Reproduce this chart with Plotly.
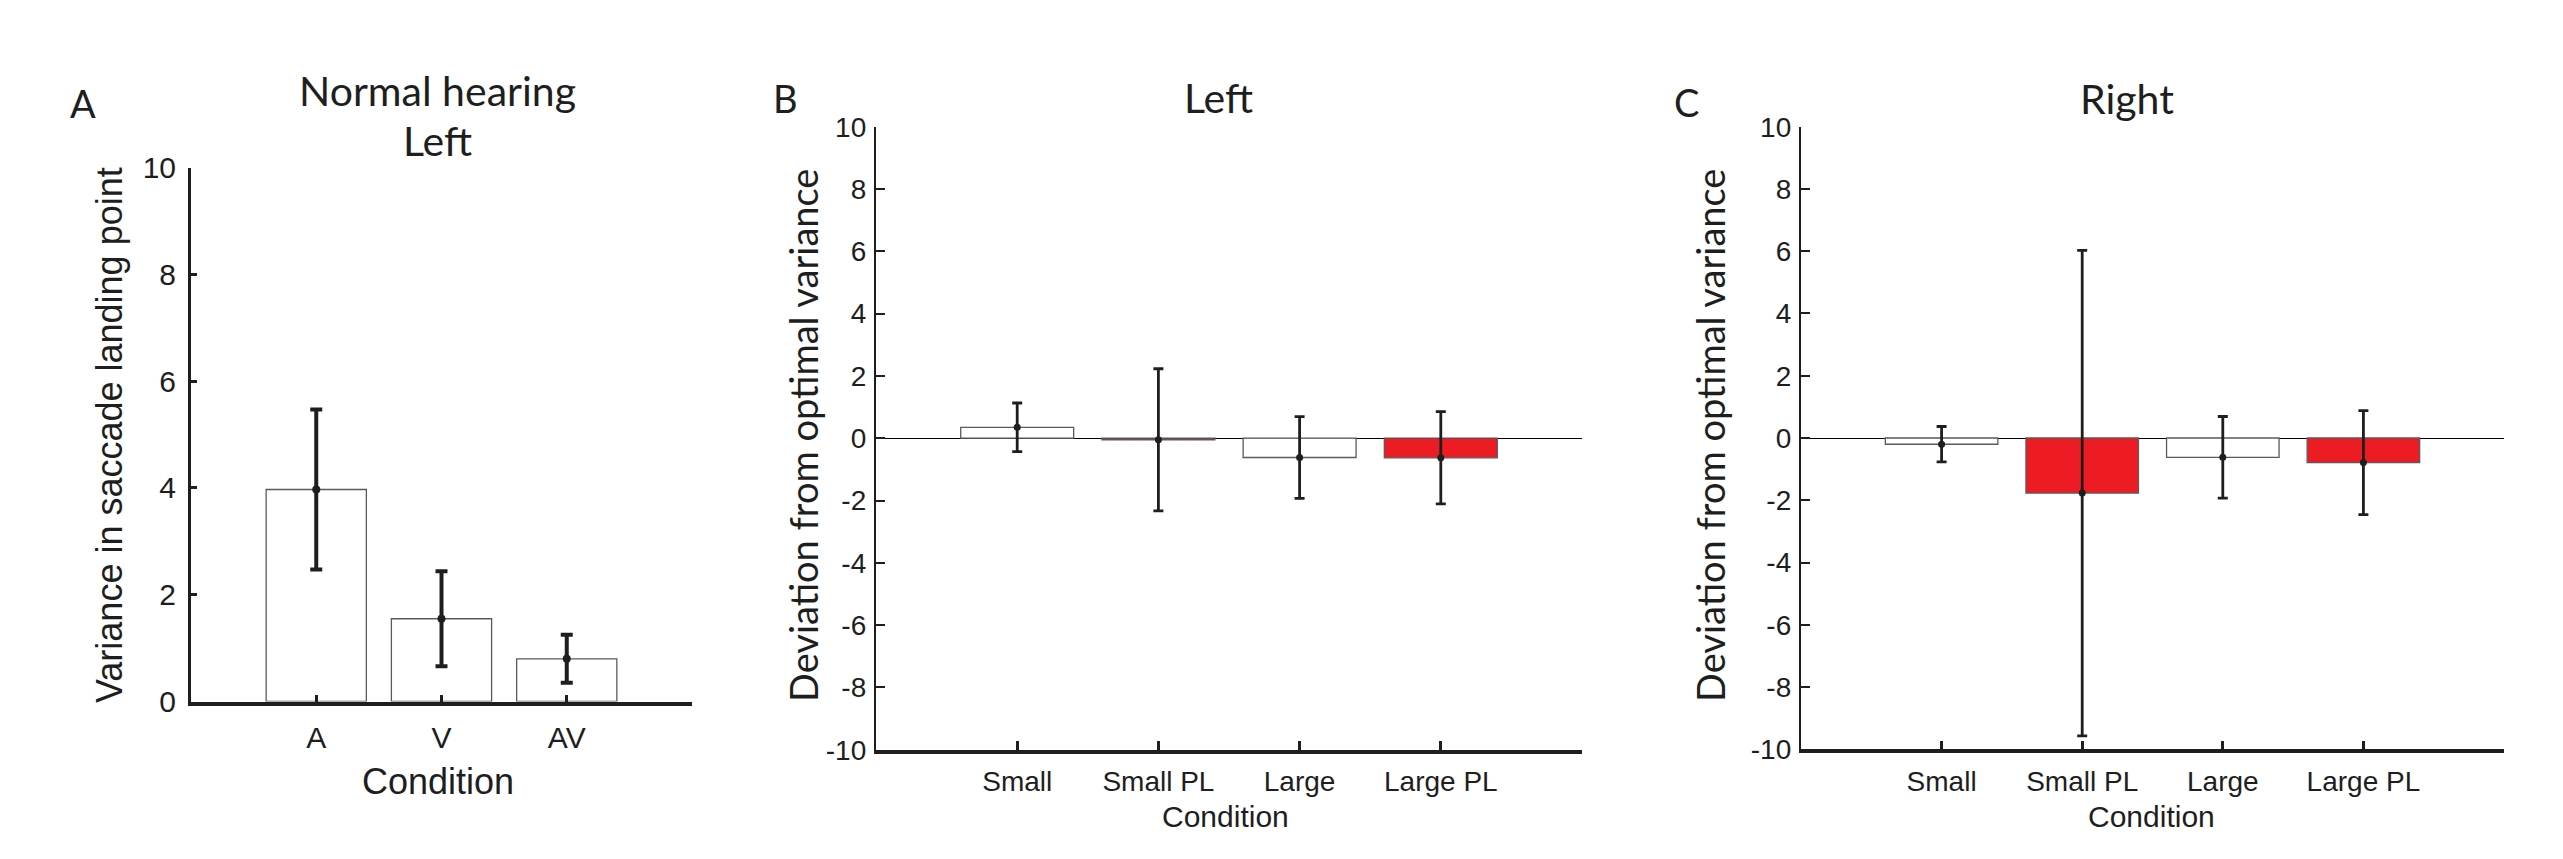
import plotly.graph_objects as go

# ---------------- data ----------------
# Panel A: Normal hearing, Left
a_categories = ["A", "V", "AV"]
a_values = [3.97, 1.55, 0.80]
a_errors = [1.50, 0.89, 0.45]
a_yticks = [0, 2, 4, 6, 8, 10]

# Panels B and C: deviation from optimal variance
bc_categories = ["Small", "Small PL", "Large", "Large PL"]
bc_colors = ["white", "#ED1C24", "white", "#ED1C24"]
b_values = [0.35, -0.05, -0.62, -0.63]
b_errors = [0.78, 2.28, 1.31, 1.48]
c_values = [-0.20, -1.77, -0.62, -0.79]
c_errors = [0.57, 7.80, 1.31, 1.67]
bc_yticks = [-10, -8, -6, -4, -2, 0, 2, 4, 6, 8, 10]
bc_yticktext = [str(v) for v in bc_yticks]  # plain hyphen minus, as in source

# ---------------- geometry helpers ----------------
W, H = 2563, 859
OFF = 8  # page body margin


def px(x):
    return (x - OFF) / W


def py(y):
    return 1 - (y - OFF) / H


TICK_FONT = "Liberation Sans, Arial, Helvetica, sans-serif"
TITLE_FONT = "Lato, Noto Sans, sans-serif"
INK = "#1e1e1e"
EDGE = "#5a5a5a"

fig = go.Figure()


def add_panel(cats, vals, errs, colors, xa, ya, err_thick, err_w, dot):
    fig.add_trace(go.Bar(
        x=cats, y=vals, width=0.8,
        marker=dict(color=colors, line=dict(color=EDGE, width=1.3)),
        xaxis=xa, yaxis=ya, showlegend=False, hoverinfo="skip"))
    fig.add_trace(go.Scatter(
        x=cats, y=vals, mode="markers",
        marker=dict(color=INK, size=dot),
        error_y=dict(type="data", array=errs, color=INK,
                     thickness=err_thick, width=err_w),
        xaxis=xa, yaxis=ya, showlegend=False, hoverinfo="skip"))


add_panel(a_categories, a_values, a_errors, ["white"] * len(a_categories),
          "x", "y", 4.0, 6, 8)
add_panel(bc_categories, b_values, b_errors, bc_colors, "x2", "y2", 2.8, 5, 7)
add_panel(bc_categories, c_values, c_errors, bc_colors, "x3", "y3", 2.8, 5, 7)

common_x = dict(type="category", showline=True, linecolor=INK, ticks="inside",
                tickcolor=INK, showgrid=False, zeroline=False,
                automargin=False)
common_y = dict(showline=True, linecolor=INK, ticks="inside", tickcolor=INK,
                showgrid=False, automargin=False)

fig.update_layout(
    template="none",
    width=W, height=H,
    margin=dict(l=0, r=0, t=0, b=0, pad=0),
    paper_bgcolor="white", plot_bgcolor="white",
    showlegend=False,
    bargap=0.2,
    # Panel A
    xaxis=dict(common_x, domain=[px(191), px(692)], anchor="y",
               range=[-1, len(a_categories)], linewidth=4, ticklen=7,
               tickwidth=3, tickfont=dict(family=TICK_FONT, size=30, color=INK),
               ticklabelstandoff=6),
    yaxis=dict(common_y, domain=[py(701.5), py(167.5)], anchor="x",
               range=[0, 10], tickvals=a_yticks, linewidth=3, ticklen=6,
               tickwidth=3, zeroline=False,
               tickfont=dict(family=TICK_FONT, size=30, color=INK),
               ticklabelstandoff=6),
    # Panel B
    xaxis2=dict(common_x, domain=[px(876), px(1582)], anchor="y2",
                range=[-1, len(bc_categories)], linewidth=3.5, ticklen=9,
                tickwidth=2.5,
                tickfont=dict(family=TICK_FONT, size=28, color=INK),
                ticklabelstandoff=4),
    yaxis2=dict(common_y, domain=[py(749.7), py(126.7)], anchor="x2",
                range=[-10, 10], tickvals=bc_yticks, ticktext=bc_yticktext,
                linewidth=2.3,
                ticklen=9, tickwidth=2.3, zeroline=True, zerolinecolor="#000",
                zerolinewidth=1.4,
                tickfont=dict(family=TICK_FONT, size=28, color=INK),
                ticklabelstandoff=2),
    # Panel C
    xaxis3=dict(common_x, domain=[px(1801), px(2504)], anchor="y3",
                range=[-1, len(bc_categories)], linewidth=3.5, ticklen=9,
                tickwidth=2.5,
                tickfont=dict(family=TICK_FONT, size=28, color=INK),
                ticklabelstandoff=4),
    yaxis3=dict(common_y, domain=[py(749.3), py(126.7)], anchor="x3",
                range=[-10, 10], tickvals=bc_yticks, ticktext=bc_yticktext,
                linewidth=2.3,
                ticklen=9, tickwidth=2.3, zeroline=True, zerolinecolor="#000",
                zerolinewidth=1.4,
                tickfont=dict(family=TICK_FONT, size=28, color=INK),
                ticklabelstandoff=2),
)


def note(text, x, y, size, family, angle=0, xanchor="center"):
    fig.add_annotation(text=text, x=px(x), y=py(y), xref="paper", yref="paper",
                       showarrow=False, xanchor=xanchor, yanchor="middle",
                       textangle=angle,
                       font=dict(family=family, size=size, color=INK))


# panel letters
note("A", 83, 103, 38, TITLE_FONT)
note("B", 785, 98, 38, TITLE_FONT)
note("C", 1686, 102, 38, TITLE_FONT)

# panel titles
note("Normal hearing", 437, 91, 41, TITLE_FONT)
note("Left", 437, 140, 41, TITLE_FONT)
note("Left", 1218, 97, 41, TITLE_FONT)
note("Right", 2127, 98, 41, TITLE_FONT)

# axis titles
note("Variance in saccade landing point", 109, 435, 36, TICK_FONT, angle=-90)
note("Condition", 438, 781, 36, TICK_FONT)
note("Deviation from optimal variance", 803, 436, 38, TITLE_FONT, angle=-90)
note("Condition", 1225, 816, 30, TICK_FONT)
note("Deviation from optimal variance", 1710, 436, 38, TITLE_FONT, angle=-90)
note("Condition", 2151, 816, 30, TICK_FONT)

fig.write_html("out.html")
